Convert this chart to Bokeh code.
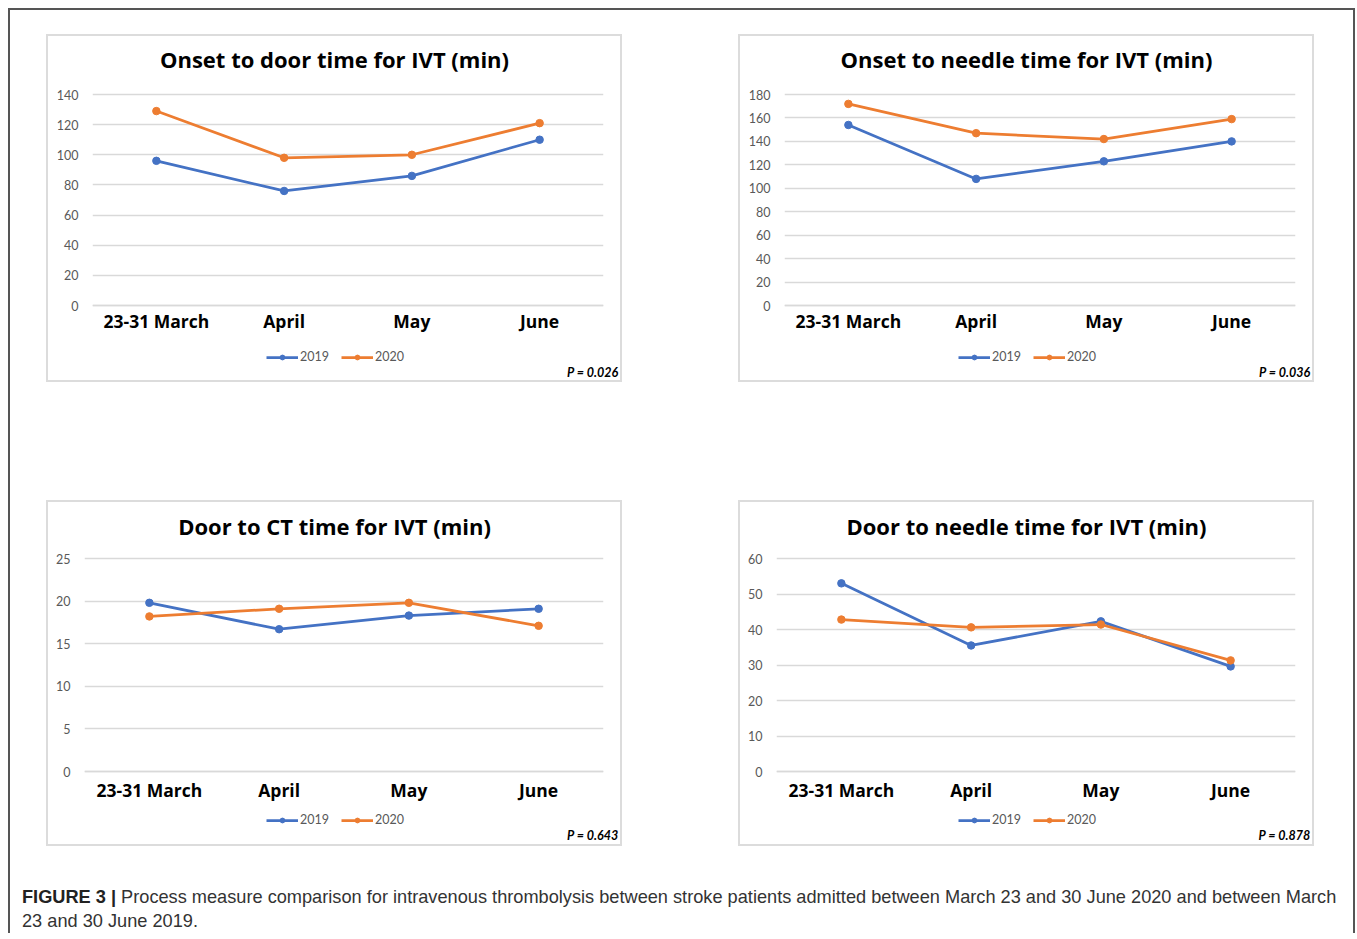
from bokeh.plotting import figure
from bokeh.models import FactorRange, Range1d, Label, Legend, LegendItem, Spacer, Div, Title
from bokeh.layouts import column, row
from bokeh.embed import file_html
from bokeh.resources import INLINE

# ---------------- data ----------------
categories = ["23-31 March", "April", "May", "June"]
years = ["2019", "2020"]

onset_door_2019 = [96, 76, 86, 110]
onset_door_2020 = [129, 98, 100, 121]

onset_needle_2019 = [154, 108, 123, 140]
onset_needle_2020 = [172, 147, 142, 159]

door_ct_2019 = [19.8, 16.7, 18.3, 19.1]
door_ct_2020 = [18.2, 19.1, 19.8, 17.1]

door_needle_2019 = [53.0, 35.5, 42.3, 29.6]
door_needle_2020 = [42.8, 40.6, 41.4, 31.3]

titles = [
    "Onset to door time for IVT (min)",
    "Onset to needle time for IVT (min)",
    "Door to CT time for IVT (min)",
    "Door to needle time for IVT (min)",
]
p_values = ["P = 0.026", "P = 0.036", "P = 0.643", "P = 0.878"]
y_ticks_1 = [0, 20, 40, 60, 80, 100, 120, 140]
y_ticks_2 = [0, 20, 40, 60, 80, 100, 120, 140, 160, 180]
y_ticks_3 = [0, 5, 10, 15, 20, 25]
y_ticks_4 = [0, 10, 20, 30, 40, 50, 60]

caption_bold = "FIGURE 3 |"
caption_line1 = ("Process measure comparison for intravenous thrombolysis between stroke "
                 "patients admitted between March 23 and 30 June 2020 and between March")
caption_line2 = "23 and 30 June 2019."

BLUE = "#4472C4"
ORANGE = "#ED7D31"
GRID = "#d9d9d9"
TICK_GRAY = "#595959"
FONT = "Lato"
HEAVY_FONT = "Open Sans"

FIG_W = 576


def make_panel(title, v2019, v2020, ticks, pval, fig_h, border_left,
               grid_top, grid_bottom, frame_bottom, title_pos, legend_xy, x_standoff):
    """grid_top/grid_bottom/frame_bottom: pixel offsets from canvas top."""
    ppu = (grid_bottom - grid_top) / (ticks[-1] - ticks[0])
    y_end = ticks[-1] + grid_top / ppu
    y_start = ticks[0] - (frame_bottom - grid_bottom) / ppu
    p = figure(width=FIG_W, height=fig_h,
               x_range=FactorRange(factors=categories),
               y_range=Range1d(y_start, y_end),
               output_backend="svg", toolbar_location=None,
               min_border_left=border_left, min_border_right=21,
               min_border_top=0, min_border_bottom=fig_h - frame_bottom,
               background_fill_color="white", border_fill_color="white",
               outline_line_color=None,
               styles={"border": "2px solid #dcdcdc"})
    p.xgrid.visible = False
    p.ygrid.grid_line_color = GRID
    p.ygrid.grid_line_width = 1.5

    p.yaxis.ticker = ticks
    p.yaxis.axis_line_color = None
    p.yaxis.major_tick_line_color = None
    p.yaxis.minor_tick_line_color = None
    p.yaxis.major_tick_out = 0
    p.yaxis.major_tick_in = 0
    p.yaxis.major_label_standoff = 14
    p.yaxis.major_label_text_font = FONT
    p.yaxis.major_label_text_font_size = "12.5px"
    p.yaxis.major_label_text_color = TICK_GRAY

    p.xaxis.fixed_location = 0
    p.xaxis.axis_line_color = GRID
    p.xaxis.axis_line_width = 1.5
    p.xaxis.major_tick_line_color = None
    p.xaxis.minor_tick_line_color = None
    p.xaxis.major_tick_out = 0
    p.xaxis.major_tick_in = 0
    p.xaxis.major_label_standoff = x_standoff
    p.xaxis.major_label_text_font = HEAVY_FONT
    p.xaxis.major_label_text_font_style = "bold"
    p.xaxis.major_label_text_font_size = "17.5px"
    p.xaxis.major_label_text_color = "black"

    l1 = p.line(categories, v2019, line_color=BLUE, line_width=2.75)
    s1 = p.scatter(categories, v2019, size=7.5, color=BLUE)
    l2 = p.line(categories, v2020, line_color=ORANGE, line_width=2.75)
    s2 = p.scatter(categories, v2020, size=7.5, color=ORANGE)

    legend = Legend(items=[LegendItem(label=years[0], renderers=[l1, s1]),
                           LegendItem(label=years[1], renderers=[l2, s2])],
                    location=legend_xy, orientation="horizontal",
                    border_line_color=None, background_fill_alpha=0,
                    padding=0, margin=0, spacing=12, label_standoff=2,
                    glyph_width=32, glyph_height=12, label_height=12,
                    label_text_font=FONT, label_text_font_size="12.5px",
                    label_text_color=TICK_GRAY)
    p.add_layout(legend)

    p.add_layout(Label(x=title_pos[0], y=frame_bottom - title_pos[1],
                       x_units="screen", y_units="screen",
                       text=title, text_align="center", text_baseline="middle",
                       text_font=HEAVY_FONT, text_font_style="bold", text_font_size="22px",
                       text_color="black"))
    p.add_layout(Title(text=pval, align="right", vertical_align="top", offset=-15,
                       standoff=0, text_font=FONT, text_font_style="bold italic",
                       text_font_size="12.5px", text_color="black"), "below")
    return p


# canvas of panels 1/2 starts at y=36; panels 3/4 at y=502
p1 = make_panel(titles[0], onset_door_2019, onset_door_2020, y_ticks_1, p_values[0],
                348, 44, 94 - 36, 305 - 36, 364 - 36, (242, 58 - 36), (174, 0), 3)
p2 = make_panel(titles[1], onset_needle_2019, onset_needle_2020, y_ticks_2, p_values[1],
                348, 44, 94 - 36, 305 - 36, 364 - 36, (242, 58 - 36), (174, 0), 3)
p3 = make_panel(titles[2], door_ct_2019, door_ct_2020, y_ticks_3, p_values[2],
                346, 36, 558 - 502, 771 - 502, 827 - 502, (250, 525 - 502), (182, 0), 6)
p4 = make_panel(titles[3], door_needle_2019, door_needle_2020, y_ticks_4, p_values[3],
                346, 36, 558 - 502, 771 - 502, 827 - 502, (250, 525 - 502), (182, 0), 6)

caption = Div(
    text=(f'<div style="font-family:\'Liberation Sans\',Arial,sans-serif;font-size:18.2px;'
          f'line-height:24px;color:#333;white-space:nowrap;margin-left:12px">'
          f'<b style="color:#222">{caption_bold}</b> {caption_line1}<br>{caption_line2}</div>'),
    width=1330, height=48, margin=0)

layout = column(
    Spacer(width=10, height=24),
    row(Spacer(width=36, height=348), p1, Spacer(width=116, height=348), p2),
    Spacer(width=10, height=118),
    row(Spacer(width=36, height=346), p3, Spacer(width=116, height=346), p4),
    Spacer(width=10, height=39),
    caption,
    width=1347,
    margin=(8, 0, 0, 8),
    styles={"border-left": "2px solid #555", "border-top": "2px solid #555",
            "border-right": "2px solid #555", "background": "white"},
)

open("out.html", "w").write(file_html(layout, INLINE))
